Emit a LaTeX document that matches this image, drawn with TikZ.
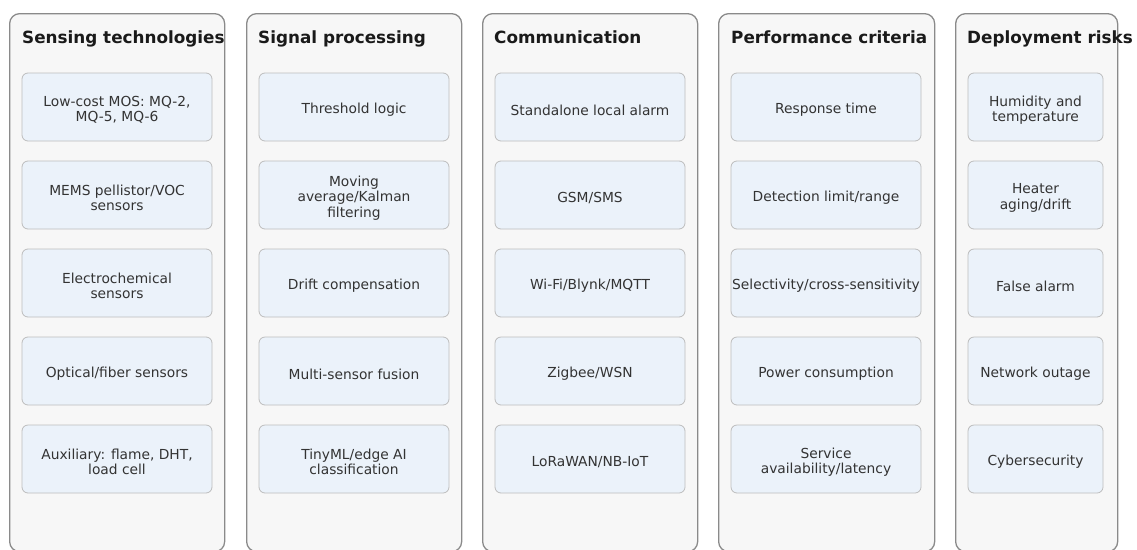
\documentclass[tikz,border=0pt]{standalone}
\usepackage{fontspec}
\setmainfont{DejaVu Sans}
\definecolor{panelfill}{HTML}{F7F7F7}
\definecolor{panelborder}{HTML}{8A8A8A}
\definecolor{itemfill}{HTML}{EBF2FA}
\definecolor{itemborder}{HTML}{BDBDBD}
\definecolor{textcol}{HTML}{333333}
\definecolor{titlecol}{HTML}{1A1A1A}
\tikzset{
  panel/.style={draw=panelborder, fill=panelfill, line width=1.3pt, rounded corners=10pt,
    anchor=north west, inner sep=0pt, minimum height=538pt},
  ptitle/.style={anchor=base west, inner sep=0pt, text=titlecol,
    font=\fontsize{16.8}{20}\selectfont\bfseries},
  item/.style={draw=itemborder, fill=itemfill, line width=0.8pt, rounded corners=6pt,
    minimum height=68pt, minimum width=190pt, inner sep=0pt},
  itemn/.style={item, minimum width=135pt},
  itext/.style={inner sep=0pt, align=center, text=textcol,
    font=\fontsize{13.8}{15.5}\selectfont}
}
\newcommand\itm[4]{%
  \node[#1] (#2) at #3 {};
  \node[itext] (#2t) at ([yshift=-3pt]#2.center) {#4};}
\begin{document}
\begin{tikzpicture}[x=1pt,y=-1pt]
\useasboundingbox (0,0) rectangle (1137,549);
% panels
\node[panel, minimum width=215pt] (p1) at (9,13) {};
\node[panel, minimum width=215pt] (p2) at (246,13) {};
\node[panel, minimum width=215pt] (p3) at (482,13) {};
\node[panel, minimum width=216pt] (p4) at (718,13) {};
\node[panel, minimum width=162pt] (p5) at (955,13) {};
% titles
\node[ptitle] (t1) at (22,43.3) {Sensing technologies};
\node[ptitle] (t2) at (258,43.3) {Signal processing};
\node[ptitle] (t3) at (494,43.3) {Communication};
\node[ptitle] (t4) at (731,43.3) {Performance criteria};
\node[ptitle] (t5) at (967,43.3) {Deployment risks};
% column 1
\itm{item}{a1}{(117,107)}{Low-cost MOS: MQ-2,\\MQ-5, MQ-6}
\itm{item}{a2}{(117,195)}{MEMS pellistor/VOC\\sensors}
\itm{item}{a3}{(117,283)}{Electrochemical\\sensors}
\itm{item}{a4}{(117,371)}{Optical/fiber sensors}
\itm{item}{a5}{(117,459)}{Auxiliary: flame, DHT,\\load cell}
% column 2
\itm{item}{b1}{(354,107)}{Threshold logic}
\itm{item}{b2}{(354,195)}{Moving\\average/Kalman\\filtering}
\itm{item}{b3}{(354,283)}{Drift compensation}
\itm{item}{b4}{(354,371)}{Multi-sensor fusion}
\itm{item}{b5}{(354,459)}{TinyML/edge AI\\classification}
% column 3
\itm{item}{c1}{(590,107)}{Standalone local alarm}
\itm{item}{c2}{(590,195)}{GSM/SMS}
\itm{item}{c3}{(590,283)}{Wi-Fi/Blynk/MQTT}
\itm{item}{c4}{(590,371)}{Zigbee/WSN}
\itm{item}{c5}{(590,459)}{LoRaWAN/NB-IoT}
% column 4
\itm{item}{d1}{(826,107)}{Response time}
\itm{item}{d2}{(826,195)}{Detection limit/range}
\itm{item}{d3}{(826,283)}{Selectivity/cross-sensitivity}
\itm{item}{d4}{(826,371)}{Power consumption}
\itm{item}{d5}{(826,459)}{Service\\availability/latency}
% column 5
\itm{itemn}{e1}{(1035.5,107)}{Humidity and\\temperature}
\itm{itemn}{e2}{(1035.5,195)}{Heater\\aging/drift}
\itm{itemn}{e3}{(1035.5,283)}{False alarm}
\itm{itemn}{e4}{(1035.5,371)}{Network outage}
\itm{itemn}{e5}{(1035.5,459)}{Cybersecurity}
\end{tikzpicture}
\end{document}
